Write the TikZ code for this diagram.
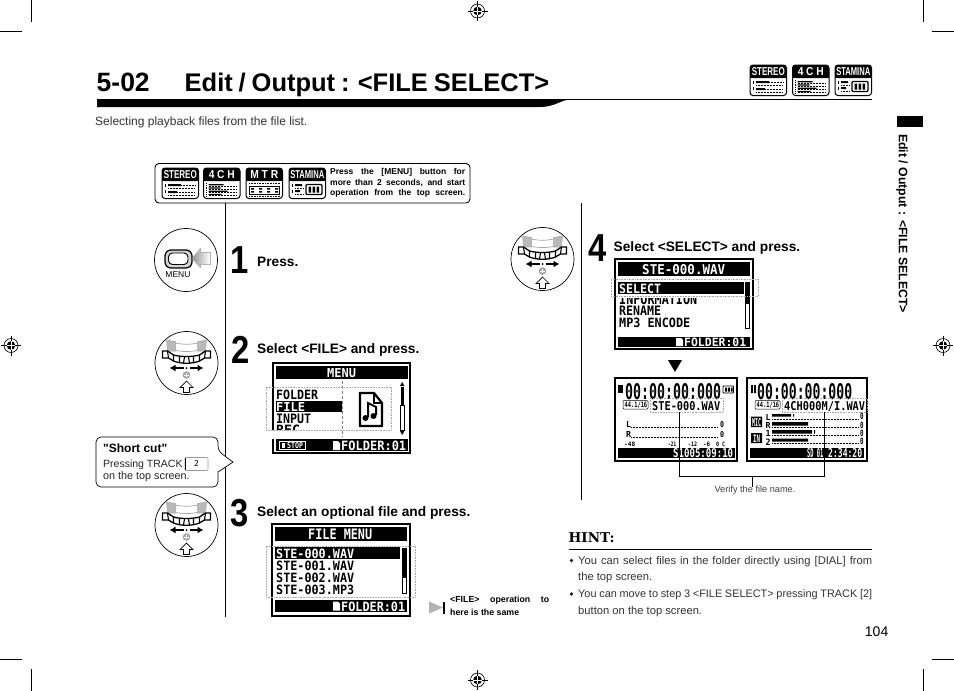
\documentclass[tikz,border=0pt]{standalone}
\usepackage{fontspec}
\usepackage{graphicx}
\setmainfont{Liberation Sans}
\newfontfamily\plainf{Liberation Sans}
\newfontfamily\lcdf{DejaVu Sans Mono}
\newfontfamily\hintf{DejaVu Serif}
\usetikzlibrary{arrows.meta}
\newcounter{nn}
\newcommand\fsz[1]{\fontsize{#1}{#1}\selectfont}
% text at a point
\newcommand\txt[4][]{\stepcounter{nn}\node[name=t\arabic{nn},anchor=west,inner sep=0pt,#1] at (#2,#3) {#4};}
% LCD text stretched to a box x1 y1 x2 y2
\newcommand\lcd[6][black]{\stepcounter{nn}\pgfmathsetlengthmacro\lw{#4-#2}\pgfmathsetlengthmacro\lh{#5-#3}\node[name=l\arabic{nn},anchor=north west,inner sep=0pt,text=#1] at (#2,#3) {\resizebox{\lw}{\lh}{\lcdf\bfseries #6}};}
\newcommand\dbox[5]{\pgfmathsetlengthmacro\lw{#4-#2}\pgfmathsetlengthmacro\lh{#5-#3}\node[name=#1,dotted box,minimum width=\lw,minimum height=\lh] at ({(#2+#4)/2},{(#3+#5)/2}) {};}
\newcommand\regmark[2]{\begin{scope}[shift={(#1,#2)}]
 \draw[line width=.6pt] (0,0) circle [radius=7];
 \fill (0,0) circle [radius=4.3];
 \draw[line width=.6pt] (-10,0) -- (10,0) (0,-10) -- (0,10);
 \draw[white,line width=.5pt] (-4.3,0) -- (4.3,0) (0,-4.3) -- (0,4.3);
\end{scope}}
\newcommand\dial[2]{\begin{scope}[shift={(#1,#2)}]
 \draw[line width=.7pt,fill=white] (0,0) circle [radius=31.5];
 \draw[gray!70,fill=white,line width=.7pt] (-15,-21) .. controls (-5,-18) and (5,-18) .. (15,-21) -- (13,-13) .. controls (5,-11) and (-5,-11) .. (-13,-13) -- cycle;
 \draw[gray!70,fill=gray!55,line width=.5pt] (-20,-23) -- (-11,-21.5) -- (-11,-12) -- (-19,-12) -- cycle;
 \draw[gray!70,fill=gray!55,line width=.5pt] (20,-23) -- (11,-21.5) -- (11,-12) -- (19,-12) -- cycle;
 \draw[line width=1.3pt,fill=white] (-24,-12) -- (-19,-12) -- (-13,-8) .. controls (-6,-6) and (6,-6) .. (13,-8) -- (19,-12) -- (24,-12) -- (24,-5) -- (18,-5) -- (13,-2) .. controls (6,1) and (-6,1) .. (-13,-2) -- (-18,-5) -- (-24,-5) -- cycle;
 \draw[line width=1.1pt] (-19,-12) -- (-18,-5) (19,-12) -- (18,-5) (-13,-8) -- (-13,-2) (13,-8) -- (13,-2) (-7,-6.5) -- (-7,0) (7,-6.5) -- (7,0) (-2,-6) -- (-3,0) (2,-6) -- (3,0);
 \draw[-{Latex[length=6pt,width=7pt]},line width=1.5pt] (-3,5) -- (-17,5);
 \draw[-{Latex[length=6pt,width=7pt]},line width=1.5pt] (3,5) -- (17,5);
 \fill (0,5) circle [radius=1];
 \fill[gray!70] (0,12) circle [radius=3.8];
 \draw[white,line width=.9pt] (-2.2,12) -- (2.2,12) (0,9.8) -- (0,14.2);
 \draw[line width=.7pt,fill=white] (0,18) -- (6.5,24.5) -- (3,24.5) -- (3,29.5) -- (-3,29.5) -- (-3,24.5) -- (-6.5,24.5) -- cycle;
\end{scope}}
% badges
\newcommand\badgeframe[3]{\draw[rounded corners=3pt,fill=white,line width=1pt] (0,0) rectangle (36.5,30.5);
 \fill[rounded corners=3pt] (0,0) rectangle (36.5,13);
 \fill (0,8) rectangle (36.5,13);
 \lcdless{#1}{#2}{#3}}
\newcommand\lcdless[3]{\stepcounter{nn}\pgfmathsetlengthmacro\lw{#2}\node[name=b\arabic{nn},inner sep=0pt,text=white] at (18.25,6.8) {\resizebox{\lw}{#3}{\bfseries #1}};}
\newcommand\mystereo[2]{\begin{scope}[shift={(#1,#2)}]\badgeframe{STEREO}{33pt}{8pt}
 \draw[line width=.5pt] (3,16) -- (3,19) (3,22) -- (3,25);
 \fill (6,16) rectangle (19,18) (6,23) rectangle (15,25);
 \draw[densely dotted,line width=.5pt] (6,20) -- (33,20) (6,27) -- (33,27) (19,17) -- (33,17) (15,24) -- (33,24);
\end{scope}}
\newcommand\myfour[2]{\begin{scope}[shift={(#1,#2)}]\badgeframe{4 C H}{26pt}{8pt}
 \fill (5,16) rectangle (20,17.3) (5,19.3) rectangle (17,20.6) (5,22.6) rectangle (24,23.9) (5,25.9) rectangle (18,27.2);
 \draw[densely dotted,line width=.5pt] (5,17.8) -- (33,17.8) (5,21.1) -- (33,21.1) (5,24.4) -- (33,24.4) (5,27.7) -- (33,27.7);
 \draw[densely dotted,line width=.8pt] (2.5,15) -- (2.5,28);
\end{scope}}
\newcommand\mymtr[2]{\begin{scope}[shift={(#1,#2)}]\badgeframe{M T R}{28pt}{8pt}
 \draw[densely dotted,line width=.6pt] (3,15.5) -- (33.5,15.5);
 \draw[line width=.7pt] (3,18) rectangle (33.5,26);
 \foreach \i in {5,13,21,29}{\fill (\i,20) rectangle ++(3,1.5) (\i,23) rectangle ++(3,1.5);}
 \draw[densely dotted,line width=.6pt] (3,28) -- (33.5,28);
\end{scope}}
\newcommand\mystam[2]{\begin{scope}[shift={(#1,#2)}]\badgeframe{STAMINA}{34pt}{8pt}
 \fill (6,16) rectangle (13,18) (6,22) rectangle (11,24);
 \draw[line width=.5pt] (3,16) -- (3,19) (3,22) -- (3,25);
 \draw[densely dotted,line width=.5pt] (6,20) -- (14,20) (6,26) -- (14,26);
 \draw[line width=1.1pt,rounded corners=1pt] (17,16.5) rectangle (33,26.5);
 \fill (19.5,18.5) rectangle (22,24.5) (23.5,18.5) rectangle (26,24.5) (27.5,18.5) rectangle (30,24.5);
\end{scope}}
\newcommand\stepdigit[3]{\txt[stepnum,anchor=base]{#1}{#2}{\scalebox{.84}[1]{#3}}}
\tikzset{
 dotted box/.style={draw=gray!70,densely dotted,line width=.6pt,inner sep=0pt},
 screenframe/.style={draw=black,line width=2pt,fill=white},
 bar/.style={fill=black},
 rail/.style={line width=.7pt},
 stepnum/.style={font=\bfseries\fsz{39}},
 steptext/.style={font=\bfseries\fsz{13.7}},
 conn/.style={line width=.7pt},
}
\begin{document}
\begin{tikzpicture}[x=1pt,y=-1pt]
\useasboundingbox (0,0) rectangle (954,691);
% crop marks
\draw[line width=.8pt] (31,0) -- (31,22) (0,31) -- (22,31) (923,0) -- (923,22) (932,31) -- (954,31)
  (31,669) -- (31,691) (0,659) -- (22,659) (923,669) -- (923,691) (932,659) -- (954,659);
\regmark{477.5}{11}\regmark{477.5}{680}\regmark{11}{345.5}\regmark{943}{345.5}
% header
\txt[font=\bfseries\fsz{26.5},anchor=base west]{96.5}{91}{5-02}
\txt[font=\bfseries\fsz{25.5},anchor=base west]{184.5}{91}{\spaceskip=.23em Edit / Output : <FILE SELECT>}
\fill (97,99) -- (572,99) .. controls (560,100) and (555,107) .. (540,107) -- (97,107) -- cycle;
\draw[line width=.8pt] (560,99.6) -- (872,99.6);
\txt[font=\fsz{12},text=black!80]{95}{122}{Selecting playback files from the file list.}
\mystereo{750}{65}\myfour{792.5}{65}\mystam{835}{65}
% side tab
\fill (897,116) rectangle (923,127);
\txt[font=\bfseries\fsz{12.3},rotate=-90,anchor=west]{902}{134}{Edit / Output : <FILE SELECT>}
% info box
\draw[rounded corners=4pt,line width=.9pt] (155,163.5) rectangle (470,203);
\mystereo{162}{168}\myfour{203.5}{168}\mymtr{246}{168}\mystam{289}{168}
\txt[font=\bfseries\fsz{8.5}]{330}{172.5}{\makebox[135pt][s]{Press the [MENU] button for}}
\txt[font=\bfseries\fsz{8.5}]{330}{183}{\makebox[135pt][s]{more than 2 seconds, and start}}
\txt[font=\bfseries\fsz{8.5}]{330}{193.5}{\makebox[135pt][s]{operation from the top screen.}}
% rails
\coordinate (railA) at (225.5,203); \coordinate (railAe) at (225.5,617);
\coordinate (railB) at (581.5,203); \coordinate (railBe) at (581.5,500);
\draw[rail] (railA) -- (railAe);
\draw[rail] (railB) -- (railBe);
% dials
\draw[line width=.7pt] (186,260) circle [radius=31.5];
\draw[line width=1.2pt,fill=gray!35,rounded corners=6pt] (165,250) rectangle (192,268);
\draw[line width=.9pt,fill=white,rounded corners=4pt] (168.5,253) rectangle (188,264.5);
\shade[left color=gray!85,right color=white] (192,258.5) -- (200,248) -- (200,252) -- (210,252) -- (210,264) -- (200,264) -- (200,268) -- cycle;
\draw[gray!60,line width=.4pt] (200,248) -- (200,252) -- (210,252) -- (210,264) -- (200,264) -- (200,268);
\txt[font=\fsz{8.5},anchor=center]{178}{275}{MENU}
\dial{186.5}{363}\dial{186.5}{525}\dial{542.5}{259}
% steps
\stepdigit{240}{273}{1}
\stepdigit{241}{363}{2}
\stepdigit{240}{526}{3}
\stepdigit{598}{261}{4}
\txt[steptext]{257}{261.5}{Press.}
\txt[steptext]{257}{350}{Select <FILE> and press.}
\txt[steptext]{257}{513}{Select an optional file and press.}
\txt[steptext]{613.5}{248}{Select <SELECT> and press.}
% callout
\draw[line width=.7pt,fill=white,rounded corners=5pt] (96,437) -- (218,437) -- (218,451) [sharp corners] -- (233,462) -- (218,472) [rounded corners=5pt] -- (218,487) -- (96,487) -- cycle;
\txt[font=\plainf\bfseries\fsz{12}]{103}{448}{"Short cut"}
\txt[font=\fsz{10.5},text=black!85]{103}{465}{Pressing TRACK}
\txt[font=\fsz{10.8},text=black!85]{103}{477}{on the top screen.}
\node[name=trackkey,draw=gray!80,line width=.6pt,rounded corners=1pt,minimum width=23pt,minimum height=13pt,inner sep=0pt,font=\lcdf\fsz{8}] at (196.5,464) {2};
\draw[line width=.8pt] (185,458) -- (185,470);
% ---- screen MENU
\draw[screenframe] (273,363) rectangle (410,453);
\fill[bar] (275.5,366) rectangle (407.5,379);
\lcd[white]{327}{368}{356}{377}{MENU}
\lcd{276}{389.5}{318}{399}{FOLDER}
\fill[bar] (275.5,400.5) rectangle (342,412);
\lcd[white]{276}{402}{305}{411}{FILE}
\lcd{276}{413.5}{311}{423}{INPUT}
\lcd{276}{425}{300}{434.5}{REC}
\fill[white] (270,430) rectangle (400,438.5);
\draw[gray,line width=1pt,densely dashed] (342.5,381) -- (342.5,437);
\draw[line width=2.2pt,fill=white] (360,393) -- (374,393) -- (382,403) -- (382,426) -- (360,426) -- cycle;
\draw[line width=1.3pt] (374,393) -- (374,403) -- (382,403);
\draw[line width=2pt] (368,417) -- (368,403) -- (376,407) -- (376,415);
\fill (365.5,418) circle [radius=3] (373.5,416) circle [radius=3];
\fill (400.5,387) rectangle (404,405);
\draw[line width=.6pt] (400.7,405) rectangle (403.8,430);
\fill (402.2,382) -- (400,386) -- (404.4,386) -- cycle (402.2,435) -- (400,431) -- (404.4,431) -- cycle;
\dbox{box2}{266}{387}{391}{430}
\fill[bar] (275.5,439) rectangle (407.5,451);
\draw[white,line width=.5pt] (279,441.5) rectangle (305,449.5);
\fill[white] (282,443) rectangle (285,448);
\lcd[white]{287}{442.5}{303}{448.5}{STOP}
\fill[white] (333,441) -- (338,441) -- (340,443) -- (340,450) -- (333,450) -- cycle;
\lcd[white]{341}{441}{406}{450.5}{FOLDER:01}
% ---- screen FILE MENU
\draw[screenframe] (272,524) rectangle (410,615.5);
\fill[bar] (275,527) rectangle (407,541);
\lcd[white]{308}{529}{372}{539.5}{FILE MENU}
\fill[bar] (275,547) rectangle (400,559);
\lcd[white]{276}{548.5}{354}{558}{STE-000.WAV}
\lcd{276}{560.5}{354}{570}{STE-001.WAV}
\lcd{276}{572.5}{354}{582}{STE-002.WAV}
\lcd{276}{584.5}{354}{594}{STE-003.MP3}
\fill (402,548) rectangle (406.5,577);
\draw[line width=.6pt] (402.3,577) rectangle (406.2,593);
\dbox{box3}{266}{546}{415}{597}
\fill[bar] (275,600) rectangle (407,612);
\fill[white] (333,601.5) -- (338,601.5) -- (340,603.5) -- (340,610.5) -- (333,610.5) -- cycle;
\lcd[white]{341}{601.5}{405}{611}{FOLDER:01}
% note
\fill[gray!60] (429,601.5) -- (443,607.5) -- (429,613.5) -- cycle;
\fill (443,601.5) rectangle (445,613.5);
\txt[font=\bfseries\fsz{8.8}]{450}{600.5}{\makebox[99pt][s]{<FILE> operation to}}
\txt[font=\bfseries\fsz{8.8}]{450}{612}{here is the same}
% ---- screen SELECT
\draw[screenframe] (615,259) rectangle (753,349);
\fill[bar] (618,262) rectangle (750,276);
\lcd[white]{642}{264.5}{725}{274.5}{STE-000.WAV}
\lcd{619}{294}{697}{304.5}{INFORMATION}
\fill[white] (617,279) rectangle (743,297.5);
\fill[bar] (618,282) rectangle (743.5,294);
\lcd[white]{619}{283.5}{661}{293}{SELECT}
\lcd{619}{306}{661}{315.5}{RENAME}
\lcd{619}{318}{690}{327.5}{MP3 ENCODE}
\fill (745,282) rectangle (749.5,303);
\draw[line width=.6pt] (745.3,303) rectangle (749.2,328);
\dbox{box4}{611}{279}{758}{296}
\fill[bar] (618,337) rectangle (750,347);
\fill[white] (676,338) -- (681,338) -- (683,340) -- (683,346) -- (676,346) -- cycle;
\lcd[white]{684}{338}{746}{346.5}{FOLDER:01}
\fill (668,360) -- (682,360) -- (675,372) -- cycle;
% ---- screen recorder stereo
\draw[screenframe] (615,378) rectangle (737,460.5);
\fill (618,385) rectangle (623,393);
\lcd{625}{383}{721}{399}{00:00:00:000}
\draw[line width=.8pt,rounded corners=.8pt] (723,386) rectangle (733.5,393);
\fill (725,387.5) rectangle (727,391.5) (728,387.5) rectangle (730,391.5) (731,387.5) rectangle (732.5,391.5);
\draw[line width=.5pt,rounded corners=1pt] (623,400.5) rectangle (648,409);
\lcd{624.5}{402}{647}{407.5}{44.1/16}
\lcd{652}{401}{720}{410}{STE-000.WAV}
\dbox{box5}{650}{398}{723}{412}
\lcd{626}{421.5}{631}{427.5}{L}
\lcd{626}{431.5}{631}{437.5}{R}
\draw[densely dotted,line width=.5pt] (631,427) -- (718,427) (631,437) -- (718,437);
\lcd{720}{421.5}{724}{427.5}{0}
\lcd{720}{431.5}{724}{437.5}{0}
\lcd{624}{441.5}{635}{446}{-48}
\lcd{668}{441.5}{676}{446}{-21}
\lcd{688}{441.5}{697}{446}{-12}
\lcd{703}{441.5}{710}{446}{-6}
\lcd{716}{441.5}{725}{446}{0 C}
\fill[bar] (617.5,447.5) rectangle (734.5,458);
\lcd[white]{673}{448.5}{733}{457.5}{S1005:09:10}
% ---- screen recorder 4ch
\draw[screenframe] (747,378) rectangle (866.5,460.5);
\fill (751,385) rectangle (752.8,393) (754,385) rectangle (755.8,393);
\lcd{757}{383}{852}{399}{00:00:00:000}
\draw[line width=.5pt,rounded corners=1pt] (755,400.5) rectangle (780,409);
\lcd{756.5}{402}{779}{407.5}{44.1/16}
\lcd{784}{401}{865}{410}{4CH000M/I.WAV}
\dbox{box6}{782}{398}{867}{412}
\fill (751,416.5) rectangle (762,427) (751,433) rectangle (762,443);
\lcd[white]{752}{418}{761}{426}{MIC}
\lcd[white]{753}{434.5}{760}{442}{IN}
\lcd{765.5}{414}{770.5}{420}{L}
\lcd{765.5}{422}{770.5}{428}{R}
\lcd{765.5}{430}{770.5}{436}{1}
\lcd{765.5}{438.5}{770.5}{445}{2}
\fill (772,414) rectangle (791,416.5) (793,414) rectangle (794,416.5)
      (772,422) rectangle (808,425.5)
      (772,430) rectangle (812,433.5) (814,430) rectangle (815,433.5)
      (772,438.5) rectangle (808,441.5);
\draw[densely dotted,line width=.5pt] (772,419) -- (858,419) (772,427.5) -- (858,427.5) (772,435) -- (858,435) (772,443.5) -- (858,443.5);
\lcd{860}{412.5}{863.5}{419}{0}
\lcd{860}{421.5}{863.5}{428}{0}
\lcd{860}{429.5}{863.5}{436}{0}
\lcd{860}{438}{863.5}{444.5}{0}
\fill[bar] (749.5,447.5) rectangle (864,458);
\lcd[white]{807}{448.5}{823}{457.5}{SD 01}
\lcd[white]{828}{448.5}{862}{457.5}{2:34:20}
% verify connector
\coordinate (vc5) at (679,412);
\coordinate (vj) at (752,476);
\coordinate (vt) at (752,487);
\draw[conn] (vc5) |- (vj);
\draw[conn] (box6.south) |- (vj);
\draw[conn] (vj) -- (vt);
\txt[font=\fsz{9.2},anchor=center,text=black!75]{755}{490.5}{Verify the file name.}
% hint
\txt[font=\hintf\bfseries\fsz{13.5}]{568.5}{538}{HINT:}
\draw[line width=.9pt] (569,549.3) -- (872,549.3);
\fill[black!85] (571.5,560.5) circle [radius=1.8] (571.5,594) circle [radius=1.8];
\txt[font=\fsz{11.2},text=black!80]{578}{561.5}{\makebox[294pt][s]{You can select files in the folder directly using [DIAL] from}}
\txt[font=\fsz{11.2},text=black!80]{578}{578}{the top screen.}
\txt[font=\fsz{10.9},text=black!80]{578}{595}{\makebox[294pt][s]{You can move to step 3 <FILE SELECT> pressing TRACK [2]}}
\txt[font=\fsz{11.2},text=black!80]{578}{612}{button on the top screen.}
\txt[font=\fsz{14},anchor=east]{888.5}{631.5}{104}
\end{tikzpicture}
\end{document}
